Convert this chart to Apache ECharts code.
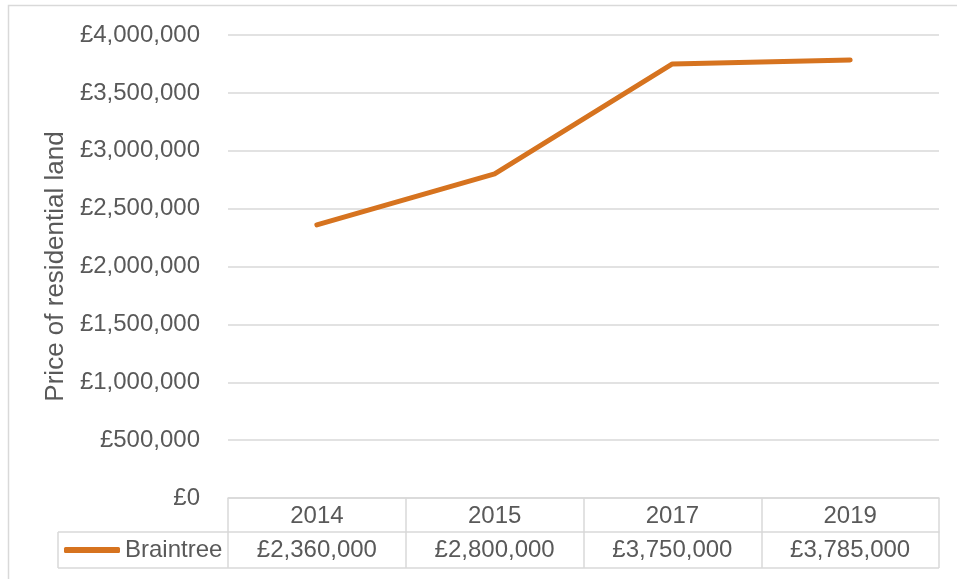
<!DOCTYPE html>
<html>
<head>
<meta charset="utf-8">
<script src="https://cdn.jsdelivr.net/npm/echarts@6/dist/echarts.min.js"></script>
<style>
html,body{margin:0;padding:0;background:#fff;}
#c{width:957px;height:579px;}
</style>
</head>
<body>
<div id="c"></div>
<script>
const categories = ['2014', '2015', '2017', '2019'];
const seriesName = 'Braintree';
const values = [2360000, 2800000, 3750000, 3785000];
const yAxisTitle = 'Price of residential land';

const fmt = v => '£' + Number(v).toLocaleString('en-GB');
const TXT = '#595959', GRID = '#D9D9D9', FONT = '"Liberation Sans", Arial, sans-serif';
const FS = 24;

const chart = echarts.init(document.getElementById('c'), null, {renderer: 'canvas'});
chart.setOption({
  animation: false,
  textStyle: {fontFamily: FONT},
  grid: {left: 228, right: 18, top: 35, bottom: 81, containLabel: false},
  legend: {
    left: 64, top: 538, padding: 0, icon: 'roundRect', itemWidth: 56, itemHeight: 6, itemGap: 0,
    textStyle: {color: TXT, fontSize: FS, fontFamily: FONT},
    data: [seriesName]
  },
  xAxis: [{
    type: 'category', data: categories, boundaryGap: true, position: 'bottom',
    axisLine: {show: true, lineStyle: {color: GRID, width: 1.5}},
    axisTick: {show: true, length: 70, lineStyle: {color: GRID, width: 1.5}},
    axisLabel: {color: TXT, fontSize: FS, fontFamily: FONT, margin: 6}
  }, {
    type: 'category', data: categories, boundaryGap: true, position: 'bottom', offset: 34,
    axisLine: {show: true, lineStyle: {color: GRID, width: 1.5}},
    axisTick: {show: false},
    axisLabel: {color: TXT, fontSize: FS, fontFamily: FONT, margin: 6,
      formatter: (v, i) => fmt(values[i])}
  }],
  yAxis: {
    type: 'value', min: 0, max: 4000000, interval: 500000,
    name: yAxisTitle, nameLocation: 'middle', nameRotate: 90, nameGap: 152,
    nameTextStyle: {color: TXT, fontSize: 26, fontFamily: FONT},
    axisLine: {show: false}, axisTick: {show: false},
    axisLabel: {color: TXT, fontSize: FS, fontFamily: FONT, margin: 28, formatter: v => fmt(v)},
    splitLine: {lineStyle: {color: GRID, width: 1.5}}
  },
  series: [{
    name: seriesName, type: 'line', data: values, xAxisIndex: 0,
    symbol: 'none', lineStyle: {color: '#D6731F', width: 5, cap: 'round', join: 'round'},
    itemStyle: {color: '#D6731F'}
  }],
  graphic: [
    {type: 'rect', shape: {x: 8.5, y: 5.5, width: 1200, height: 1200}, style: {fill: 'none', stroke: GRID, lineWidth: 1.5}, silent: true},
    {type: 'line', shape: {x1: 58, y1: 532, x2: 228, y2: 532}, style: {stroke: GRID, lineWidth: 1.5}, silent: true},
    {type: 'line', shape: {x1: 58, y1: 568, x2: 939, y2: 568}, style: {stroke: GRID, lineWidth: 1.5}, silent: true},
    {type: 'line', shape: {x1: 58, y1: 532, x2: 58, y2: 568}, style: {stroke: GRID, lineWidth: 1.5}, silent: true}
  ]
});
</script>
</body>
</html>
